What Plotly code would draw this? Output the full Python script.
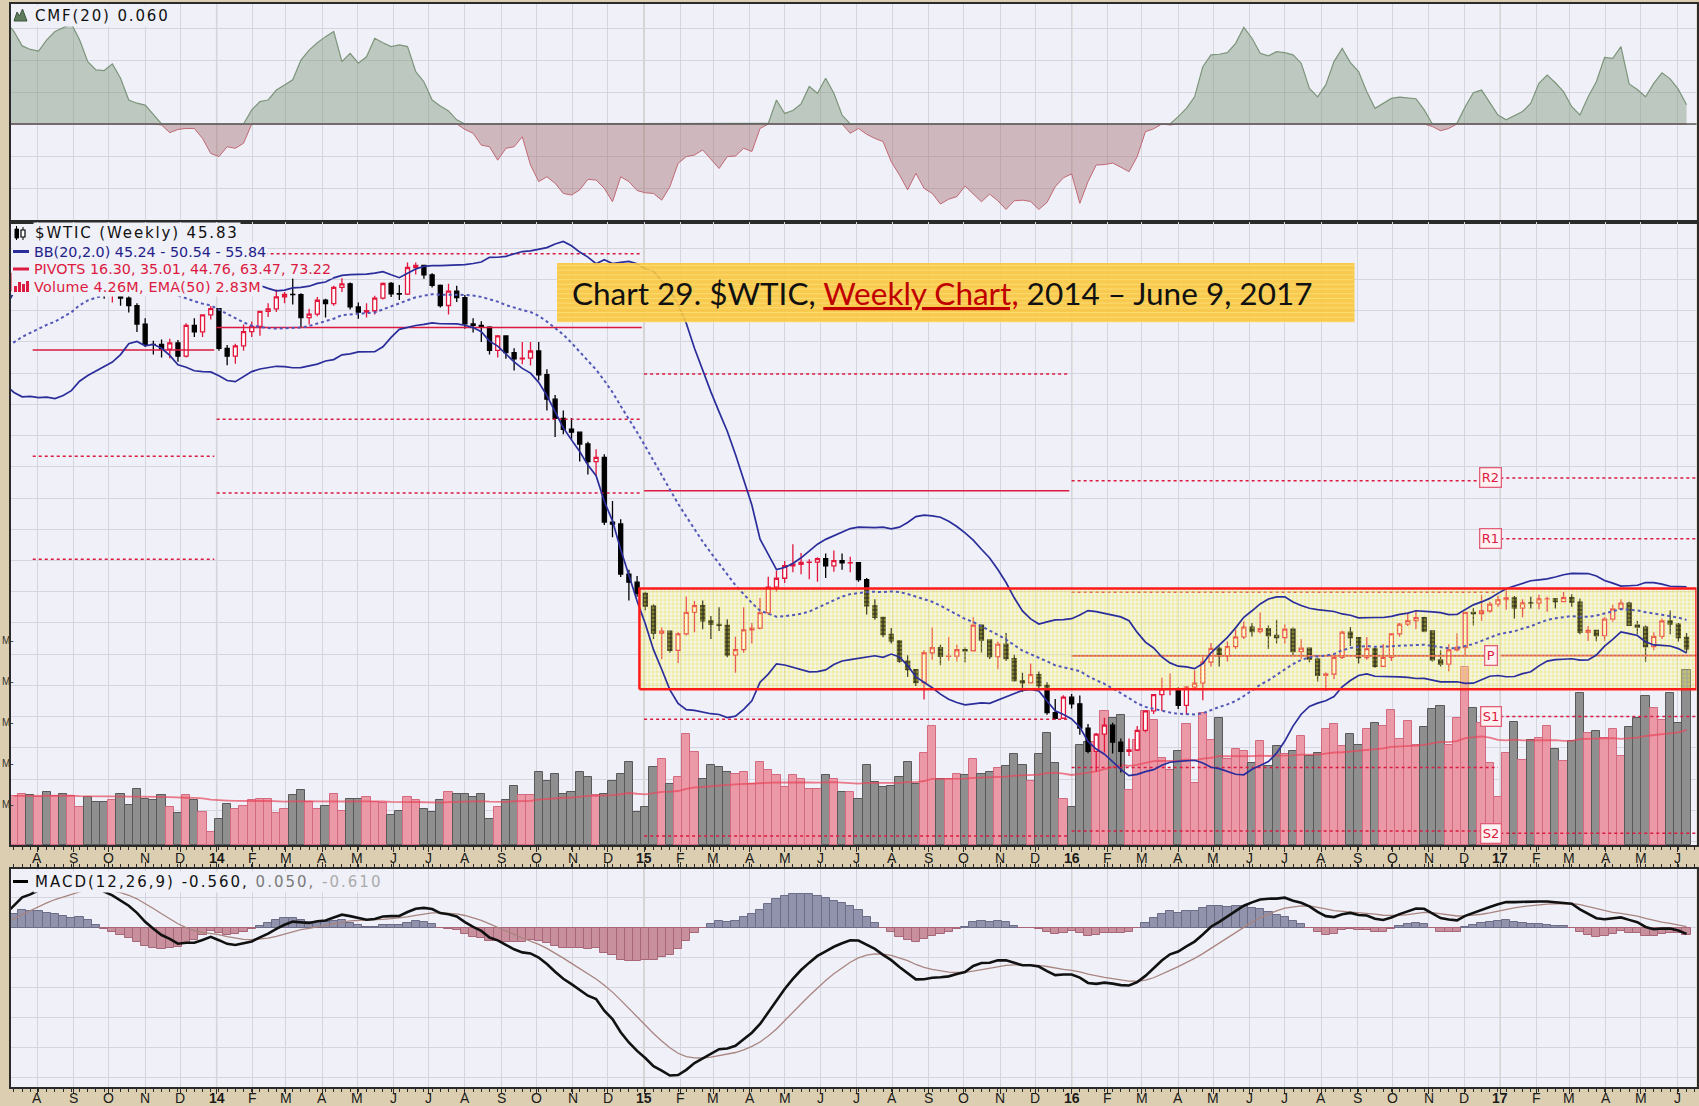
import numpy as np
import pandas as pd
import plotly.graph_objects as go

# ---------------- $WTIC weekly data ----------------
# weekly settles before the visible window (used to seed the indicators)
warmup_closes = [93.09, 93.56, 95.56, 95.88, 97.77, 95.72, 95.86, 93.13, 90.68, 91.95,
                 93.45, 93.71, 97.23, 92.70, 91.29, 88.01, 93.00, 95.61, 96.04, 96.02,
                 93.84, 91.97, 96.03, 97.85, 93.69, 96.56, 103.22]

# weekly bars, first bar = week ending 2013-07-12, last = 2017-06-09
opens = [103.22, 105.95, 108.05, 104.70, 106.94, 106.00, 107.46, 106.42, 107.65, 110.53,
         108.21, 104.67, 102.87, 103.84, 102.02, 100.81, 97.85, 94.61, 94.60, 93.84,
         94.84, 92.72, 97.65, 96.60, 99.32, 100.32, 93.96, 92.72, 94.37, 96.64,
         97.49, 99.88, 100.30, 102.20, 102.59, 102.58, 98.89, 99.46, 101.67, 101.14,
         103.74, 104.30, 100.60, 99.76, 99.99, 102.02, 104.35, 102.71, 102.66, 106.91,
         107.26, 105.74, 104.06, 100.83, 103.13, 102.09, 97.88, 97.65, 97.35, 93.65,
         95.96, 93.29, 92.27, 92.41, 93.54, 89.74, 85.82, 82.75, 81.01, 80.54,
         78.65, 75.82, 76.51, 66.15, 65.84, 57.81, 56.52, 54.73, 52.69, 48.36,
         48.69, 45.59, 48.24, 51.69, 52.78, 50.34, 49.76, 49.61, 44.84, 45.72,
         48.87, 49.14, 51.64, 55.74, 57.15, 59.15, 59.39, 59.69, 59.72, 60.30,
         59.13, 59.96, 59.61, 59.63, 56.93, 52.74, 50.89, 48.14, 47.12, 43.87,
         42.50, 40.45, 45.22, 46.05, 44.63, 44.68, 45.70, 45.54, 49.63, 47.26,
         44.60, 46.59, 44.29, 40.74, 40.39, 41.71, 39.97, 35.62, 34.73, 38.10,
         37.04, 33.16, 29.42, 32.19, 33.62, 30.89, 29.44, 29.64, 32.78, 35.92,
         38.50, 39.44, 39.46, 36.79, 39.72, 40.36, 43.73, 45.92, 44.66, 46.21,
         47.75, 49.33, 48.62, 49.07, 47.98, 47.64, 48.99, 45.41, 45.95, 44.19,
         41.60, 41.80, 44.49, 48.52, 47.64, 44.44, 45.88, 43.03, 44.48, 48.24,
         49.81, 50.35, 50.85, 48.70, 44.07, 43.41, 45.69, 46.06, 51.68, 51.50,
         51.90, 53.02, 53.72, 53.99, 52.37, 53.22, 53.17, 53.83, 53.86, 53.40,
         54.05, 53.33, 48.49, 48.78, 47.97, 50.60, 52.24, 53.18, 49.62, 49.33,
         46.22, 47.84, 50.33, 49.80, 47.66]

highs = [106.30, 109.32, 108.40, 108.00, 107.10, 108.00, 107.95, 112.24, 110.70, 110.75,
         108.50, 105.00, 104.20, 104.10, 103.00, 101.20, 98.80, 95.20, 95.40, 95.50,
         95.30, 98.00, 98.80, 99.40, 100.75, 100.40, 94.50, 94.70, 97.80, 98.25,
         100.00, 101.20, 103.40, 103.00, 105.20, 102.80, 100.30, 102.20, 101.90, 104.00,
         105.20, 104.50, 101.30, 101.20, 102.40, 104.50, 104.60, 104.10, 107.70, 107.73,
         107.30, 106.00, 104.20, 104.30, 104.00, 102.50, 98.80, 98.30, 97.50, 96.10,
         96.00, 94.00, 95.00, 95.00, 95.00, 90.60, 86.50, 84.00, 82.80, 80.60,
         79.00, 77.80, 77.00, 69.50, 66.60, 58.50, 57.50, 55.00, 53.00, 49.30,
         48.80, 48.50, 54.24, 53.50, 53.60, 51.10, 52.50, 50.60, 47.80, 52.50,
         50.00, 54.00, 57.40, 58.40, 59.90, 62.58, 61.20, 60.20, 60.50, 61.10,
         61.60, 61.10, 60.60, 59.70, 57.20, 53.80, 51.00, 49.20, 47.20, 44.80,
         42.60, 45.60, 49.30, 46.50, 47.70, 46.50, 46.10, 50.92, 49.80, 47.30,
         47.00, 48.40, 44.90, 42.00, 43.50, 42.20, 40.50, 37.80, 38.40, 38.60,
         38.39, 33.80, 32.35, 34.82, 34.00, 31.50, 31.50, 33.50, 36.00, 38.50,
         41.20, 41.90, 39.70, 39.90, 42.42, 44.50, 46.78, 46.20, 47.00, 48.90,
         50.21, 50.00, 51.67, 49.60, 50.50, 49.80, 49.30, 47.40, 46.10, 44.40,
         42.10, 44.80, 48.75, 49.36, 47.70, 47.70, 46.00, 46.60, 48.30, 50.00,
         51.60, 51.93, 51.00, 48.80, 45.60, 46.60, 48.30, 51.80, 52.40, 54.51,
         53.40, 54.38, 55.24, 54.30, 53.80, 54.20, 54.50, 54.20, 54.00, 54.94,
         54.60, 53.90, 49.50, 48.90, 50.90, 52.90, 53.77, 53.40, 50.30, 49.60,
         48.50, 50.70, 52.00, 50.00, 48.40]

lows = [102.80, 105.50, 104.00, 103.60, 103.30, 105.50, 103.10, 105.50, 106.20, 106.70,
        104.20, 101.90, 101.30, 100.80, 99.70, 96.60, 94.20, 93.00, 92.50, 92.40,
        91.80, 92.50, 95.80, 95.80, 98.60, 93.60, 91.24, 91.50, 93.60, 95.80,
        96.00, 99.00, 99.80, 101.20, 101.00, 97.40, 97.80, 99.10, 98.90, 100.80,
        103.00, 100.20, 98.70, 98.90, 99.40, 101.80, 102.20, 101.70, 102.50, 105.80,
        105.10, 103.70, 100.50, 99.40, 101.40, 97.10, 96.50, 95.00, 93.00, 92.50,
        92.30, 90.40, 91.40, 91.20, 88.80, 84.00, 79.78, 80.20, 79.50, 75.84,
        73.75, 73.60, 65.69, 63.72, 57.34, 53.60, 54.20, 52.03, 47.40, 44.20,
        45.20, 43.58, 48.00, 48.50, 49.00, 47.40, 48.70, 44.50, 42.03, 45.20,
        46.70, 49.00, 51.30, 55.00, 56.40, 58.10, 57.80, 57.00, 56.60, 57.20,
        58.20, 58.50, 58.10, 56.60, 51.35, 50.50, 47.70, 46.68, 43.60, 41.35,
        39.90, 37.75, 44.10, 43.20, 43.90, 43.80, 43.70, 45.50, 45.20, 44.20,
        42.58, 43.90, 40.60, 38.99, 40.30, 39.40, 35.30, 34.53, 34.60, 36.30,
        32.10, 29.13, 26.19, 29.25, 29.10, 26.05, 28.70, 29.50, 32.50, 35.40,
        35.90, 38.40, 36.20, 35.24, 39.20, 37.60, 43.00, 43.03, 43.80, 45.80,
        47.40, 47.80, 48.30, 45.83, 46.70, 46.70, 44.80, 44.20, 43.70, 40.60,
        39.19, 41.00, 44.20, 46.30, 43.50, 44.10, 42.80, 43.00, 43.90, 47.80,
        49.50, 49.00, 48.50, 43.80, 43.03, 42.20, 45.40, 44.80, 49.60, 50.30,
        51.60, 52.60, 52.10, 50.71, 50.90, 52.30, 52.20, 51.80, 52.30, 53.30,
        52.60, 48.20, 47.10, 47.05, 47.10, 50.20, 52.10, 49.50, 48.20, 43.76,
        45.60, 47.40, 48.20, 47.00, 45.20]

closes = [105.95, 108.05, 104.70, 106.94, 106.00, 107.46, 106.42, 107.65, 110.53, 108.21,
          104.67, 102.87, 103.84, 102.02, 100.81, 97.85, 94.61, 94.60, 93.84, 94.84,
          92.72, 97.65, 96.60, 99.32, 100.32, 93.96, 92.72, 94.37, 96.64, 97.49,
          99.88, 100.30, 102.20, 102.59, 102.58, 98.89, 99.46, 101.67, 101.14, 103.74,
          104.30, 100.60, 99.76, 99.99, 102.02, 104.35, 102.71, 102.66, 106.91, 107.26,
          105.74, 104.06, 100.83, 103.13, 102.09, 97.88, 97.65, 97.35, 93.65, 95.96,
          93.29, 92.27, 92.41, 93.54, 89.74, 85.82, 82.75, 81.01, 80.54, 78.65,
          75.82, 76.51, 66.15, 65.84, 57.81, 56.52, 54.73, 52.69, 48.36, 48.69,
          45.59, 48.24, 51.69, 52.78, 50.34, 49.76, 49.61, 44.84, 45.72, 48.87,
          49.14, 51.64, 55.74, 57.15, 59.15, 59.39, 59.69, 59.72, 60.30, 59.13,
          59.96, 59.61, 59.63, 56.93, 52.74, 50.89, 48.14, 47.12, 43.87, 42.50,
          40.45, 45.22, 46.05, 44.63, 44.68, 45.70, 45.54, 49.63, 47.26, 44.60,
          46.59, 44.29, 40.74, 40.39, 41.71, 39.97, 35.62, 34.73, 38.10, 37.04,
          33.16, 29.42, 32.19, 33.62, 30.89, 29.44, 29.64, 32.78, 35.92, 38.50,
          39.44, 39.46, 36.79, 39.72, 40.36, 43.73, 45.92, 44.66, 46.21, 47.75,
          49.33, 48.62, 49.07, 47.98, 47.64, 48.99, 45.41, 45.95, 44.19, 41.60,
          41.80, 44.49, 48.52, 47.64, 44.44, 45.88, 43.03, 44.48, 48.24, 49.81,
          50.35, 50.85, 48.70, 44.07, 43.41, 45.69, 46.06, 51.68, 51.50, 51.90,
          53.02, 53.72, 53.99, 52.37, 53.22, 53.17, 53.83, 53.86, 53.40, 54.05,
          53.33, 48.49, 48.78, 47.97, 50.60, 52.24, 53.18, 49.62, 49.33, 46.22,
          47.84, 50.33, 49.80, 47.66, 45.83]

# weekly volume, millions
volume_m = [1.20, 1.25, 1.21, 1.18, 1.29, 1.19, 1.25, 1.19, 0.92, 1.17,
            1.04, 1.04, 1.09, 1.25, 0.97, 1.37, 1.13, 1.09, 1.21, 0.92,
            0.77, 1.21, 1.09, 0.80, 0.31, 0.64, 1.00, 0.88, 0.96, 1.09,
            1.13, 1.13, 0.77, 0.88, 1.21, 1.33, 1.04, 0.88, 0.96, 1.25,
            0.84, 1.11, 1.11, 1.17, 1.04, 1.03, 0.72, 0.84, 1.17, 1.09,
            0.88, 0.80, 1.09, 1.29, 1.25, 1.25, 1.17, 1.25, 0.64, 0.92,
            1.09, 1.45, 1.21, 1.21, 1.78, 1.57, 1.74, 1.25, 1.29, 1.78,
            1.65, 1.21, 1.25, 1.57, 1.74, 2.02, 0.80, 0.92, 1.90, 2.10,
            1.49, 1.65, 2.70, 2.26, 1.61, 1.94, 1.90, 1.78, 1.74, 1.78,
            1.49, 2.02, 1.82, 1.70, 1.41, 1.70, 1.61, 1.37, 1.37, 1.70,
            1.61, 1.29, 1.29, 1.13, 1.94, 1.53, 1.41, 1.45, 1.65, 2.02,
            1.49, 2.25, 2.90, 1.60, 1.60, 1.74, 1.70, 2.10, 1.74, 1.78,
            1.88, 1.92, 2.22, 1.96, 1.56, 2.21, 2.74, 2.00, 1.13, 0.92,
            2.43, 2.51, 2.51, 3.26, 3.10, 3.16, 1.35, 2.57, 3.26, 3.06,
            2.13, 1.84, 2.29, 2.94, 1.52, 3.22, 2.57, 3.10, 2.09, 2.33,
            2.29, 2.00, 2.53, 1.92, 2.41, 2.21, 2.29, 2.65, 2.17, 2.25,
            2.82, 2.94, 2.41, 2.70, 2.45, 2.82, 2.98, 2.90, 3.30, 2.59,
            3.02, 2.45, 2.88, 3.32, 3.39, 2.45, 3.09, 4.33, 3.35, 2.98,
            2.00, 1.18, 2.25, 3.00, 2.08, 2.57, 2.60, 2.90, 2.33, 2.04,
            2.53, 3.70, 2.74, 2.78, 2.60, 2.82, 2.17, 2.87, 3.10, 3.63,
            3.35, 3.06, 3.70, 2.98, 4.26]

# Chaikin Money Flow (20), first value = week ending 2013-07-05
cmf20 = [0.320,
         0.289, 0.244, 0.233, 0.228, 0.263, 0.289, 0.302, 0.313, 0.263, 0.195,
         0.169, 0.167, 0.188, 0.143, 0.075, 0.065, 0.059, 0.028, -0.003, -0.027,
         -0.017, -0.014, -0.014, -0.045, -0.092, -0.102, -0.071, -0.076, -0.060, 0.044,
         0.070, 0.075, 0.106, 0.122, 0.138, 0.200, 0.231, 0.254, 0.273, 0.289,
         0.195, 0.221, 0.190, 0.210, 0.268, 0.254, 0.242, 0.247, 0.242, 0.164,
         0.132, 0.075, 0.056, 0.041, 0.013, -0.017, -0.029, -0.066, -0.071, -0.113,
         -0.076, -0.071, -0.040, -0.128, -0.180, -0.165, -0.185, -0.217, -0.222, -0.206,
         -0.173, -0.175, -0.201, -0.243, -0.165, -0.180, -0.208, -0.215, -0.217, -0.238,
         -0.196, -0.123, -0.102, -0.097, -0.081, -0.110, -0.139, -0.102, -0.100, -0.076,
         -0.086, -0.014, 0.002, 0.075, 0.033, 0.042, 0.063, 0.117, 0.096, 0.143,
         0.096, 0.028, -0.029, -0.014, -0.032, -0.045, -0.055, -0.118, -0.159, -0.206,
         -0.154, -0.201, -0.217, -0.250, -0.235, -0.227, -0.194, -0.220, -0.243, -0.219,
         -0.240, -0.267, -0.240, -0.238, -0.242, -0.267, -0.245, -0.196, -0.168, -0.156,
         -0.248, -0.180, -0.128, -0.127, -0.122, -0.135, -0.149, -0.102, -0.024, -0.015,
         0.000, -0.003, 0.023, 0.049, 0.085, 0.179, 0.216, 0.218, 0.223, 0.252,
         0.302, 0.268, 0.221, 0.213, 0.226, 0.223, 0.216, 0.190, 0.111, 0.085,
         0.122, 0.195, 0.236, 0.192, 0.164, 0.101, 0.049, 0.065, 0.080, 0.084,
         0.081, 0.079, 0.044, -0.008, -0.021, -0.014, 0.002, 0.054, 0.098, 0.106,
         0.065, 0.028, 0.013, 0.025, 0.039, 0.065, 0.127, 0.153, 0.129, 0.101,
         0.054, 0.028, 0.085, 0.132, 0.208, 0.205, 0.242, 0.125, 0.108, 0.085,
         0.127, 0.160, 0.141, 0.108, 0.060]

# yearly pivot levels
pivot_start = ["2013-07-28", "2014-01-01", "2015-01-01", "2016-01-01", "2017-01-01"]
pivot_end = ["2013-12-30", "2014-12-30", "2015-12-30", "2016-12-30", "2017-06-17 12:00"]
pivot_r2 = [127.20, 123.60, 126.44, 72.77, 73.22]
pivot_r1 = [110.20, 109.10, 89.86, 54.91, 63.47]
pivot_p = [93.70, 97.30, 71.15, 44.72, 44.76]
pivot_s1 = [76.70, 82.60, 34.57, 26.86, 35.01]
pivot_s2 = [60.20, 70.80, 15.86, 16.67, 16.30]
pivot_names = ["R2", "R1", "P", "S1", "S2"]

legend_price = "$WTIC (Weekly) 45.83"
legend_bb = "BB(20,2.0) 45.24 - 50.54 - 55.84"
legend_piv = "PIVOTS 16.30, 35.01, 44.76, 63.47, 73.22"
legend_vol = "Volume 4.26M, EMA(50) 2.83M"
legend_cmf = "CMF(20) 0.060"
legend_macd = ["MACD(12,26,9) -0.560,", "0.050,", "-0.610"]
title_parts = ["Chart 29. $WTIC, ", "Weekly Chart,", " 2014 \u2013 June 9, 2017"]
volume_ticks_m = [1, 2, 3, 4, 5]

# highlighted trading range
box_start, box_low, box_high = "2014-12-28", 39.38, 55.52

# ---------------- page geometry ----------------
W, H = 1699, 1106
TAN = "#dccfb1"
PANEL = "#eff0f8"
GRID = "#d4d5de"
YEARGRID = "#c6bea6"
BORDER = "#2b2b2b"
RED = "#e3173c"
PIV_RED = "#dc1a40"
NAVY = "#2a2d9a"
X_RANGE = ["2013-07-09 11:00", "2017-06-17 12:00"]
X_L, X_R = 11, 1696.5
CMF_T, CMF_B = 4, 222
PR_T, PR_B = 222, 845
MD_T, MD_B = 869, 1087
VOL_PX_PER_M = 41.0


def fx(px):
    return px / W


def fy(py):
    return 1 - py / H


def path_px(points):
    return "M " + " L ".join(f"{fx(x):.5f},{fy(y):.5f}" for x, y in points) + " Z"


week_dates = pd.date_range("2013-07-12", periods=len(closes), freq="7D")
warm_dates = pd.date_range(end="2013-07-05", periods=len(warmup_closes), freq="7D")
cmf_dates = pd.date_range("2013-07-05", periods=len(cmf20), freq="7D")
WEEK_MS = 7 * 86400000

# ---------------- indicators ----------------
close_all = pd.Series(warmup_closes + closes, index=warm_dates.append(week_dates))
bb_mid = close_all.rolling(20).mean()
bb_sd = close_all.rolling(20).std(ddof=0)
bb_up = bb_mid + 2 * bb_sd
bb_lo = bb_mid - 2 * bb_sd
ema12 = close_all.ewm(span=12, adjust=False).mean()
ema26 = close_all.ewm(span=26, adjust=False).mean()
macd = ema12 - ema26
signal = macd.ewm(span=9, adjust=False).mean()
hist = macd - signal

vol = pd.Series(volume_m, index=week_dates)
vol_ema = vol.ewm(span=50, adjust=False).mean()
prev_close = [warmup_closes[-1]] + closes[:-1]
vol_up = [c >= p for c, p in zip(closes, prev_close)]

cmf = pd.Series(cmf20, index=cmf_dates)
cmf_pos = cmf.clip(lower=0)
cmf_neg = cmf.clip(upper=0)

vis = macd[macd.index >= pd.Timestamp(X_RANGE[0])]
m_abs = abs(vis.min())
m_scale = 148.0 / m_abs
macd_range = [-159.5 / m_scale, 58.5 / m_scale]
macd_dtick = 30.0 / m_scale

box_x = [box_start, X_RANGE[1], X_RANGE[1], box_start, box_start]
box_y = [box_low, box_low, box_high, box_high, box_low]

fig = go.Figure()

# ---- CMF panel ----
fig.add_trace(go.Scatter(x=cmf.index, y=cmf_pos, mode="lines", fill="tozeroy",
                         fillcolor="rgba(120,145,115,0.42)", line=dict(color="#7d957a", width=1.2),
                         xaxis="x", yaxis="y", hoverinfo="skip"))
fig.add_trace(go.Scatter(x=cmf.index, y=cmf_neg, mode="lines", fill="tozeroy",
                         fillcolor="rgba(160,100,100,0.40)", line=dict(color="#c06874", width=1.0),
                         xaxis="x", yaxis="y", hoverinfo="skip"))

# ---- volume (base axis of price panel) ----
fig.add_trace(go.Bar(x=week_dates, y=volume_m, width=WEEK_MS,
                     marker=dict(color=["#eb98a7" if u else "#8f8f8f" for u in vol_up],
                                 line=dict(color=["#d46a80" if u else "#595959" for u in vol_up], width=1)),
                     xaxis="x2", yaxis="y2", hoverinfo="skip"))
fig.add_trace(go.Scatter(x=week_dates, y=vol_ema, mode="lines",
                         line=dict(color="rgba(232,70,90,0.7)", width=1.8),
                         xaxis="x2", yaxis="y2", hoverinfo="skip"))


# ---- pivots ----
def pivot_trace(levels, dash, width):
    xs, ys = [], []
    for s, e, v in zip(pivot_start, pivot_end, levels):
        xs += [s, e, None]
        ys += [v, v, None]
    return go.Scatter(x=xs, y=ys, mode="lines", line=dict(color=PIV_RED, width=width, dash=dash),
                      xaxis="x2", yaxis="y4", hoverinfo="skip", connectgaps=False)


for lv in (pivot_r2, pivot_r1, pivot_s1, pivot_s2):
    fig.add_trace(pivot_trace(lv, "dot", 1.5))
fig.add_trace(pivot_trace(pivot_p, "solid", 1.6))

# ---- candles ----
fig.add_trace(go.Candlestick(x=week_dates, open=opens, high=highs, low=lows, close=closes,
                             increasing=dict(line=dict(color=RED, width=1.3), fillcolor="white"),
                             decreasing=dict(line=dict(color="black", width=1.3), fillcolor="black"),
                             whiskerwidth=0, xaxis="x2", yaxis="y4", hoverinfo="skip"))

# ---- highlighted range: dotted yellow wash ----
fig.add_trace(go.Scatter(x=box_x, y=box_y, mode="lines", fill="toself",
                         fillpattern=dict(shape=".", fgcolor="#e8e030", fgopacity=0.4,
                                          bgcolor="rgba(255,255,160,0.24)", size=4, solidity=0.4),
                         line=dict(width=0), xaxis="x2", yaxis="y4", hoverinfo="skip"))

# ---- Bollinger bands ----
bb_ok = bb_mid.notna()
fig.add_trace(go.Scatter(x=bb_mid.index[bb_ok], y=bb_up[bb_ok], mode="lines",
                         line=dict(color=NAVY, width=1.7), xaxis="x2", yaxis="y4", hoverinfo="skip"))
fig.add_trace(go.Scatter(x=bb_mid.index[bb_ok], y=bb_lo[bb_ok], mode="lines",
                         line=dict(color=NAVY, width=1.7), xaxis="x2", yaxis="y4", hoverinfo="skip"))
fig.add_trace(go.Scatter(x=bb_mid.index[bb_ok], y=bb_mid[bb_ok], mode="lines",
                         line=dict(color="#5257b8", width=2, dash="dot"), xaxis="x2", yaxis="y4",
                         hoverinfo="skip"))

# ---- highlighted range: red frame ----
fig.add_trace(go.Scatter(x=box_x, y=box_y, mode="lines", line=dict(color="#ff1a1a", width=2.5),
                         xaxis="x2", yaxis="y4", hoverinfo="skip"))

# ---- MACD panel ----
fig.add_trace(go.Bar(x=hist.index, y=hist.values, width=WEEK_MS,
                     marker=dict(color=["#9192ab" if v >= 0 else "#c8909d" for v in hist.values],
                                 line=dict(color=["#6c6d88" if v >= 0 else "#a86778" for v in hist.values],
                                           width=1)),
                     xaxis="x3", yaxis="y3", hoverinfo="skip"))
fig.add_trace(go.Scatter(x=signal.index, y=signal.values, mode="lines",
                         line=dict(color="#a98580", width=1.3), xaxis="x3", yaxis="y3", hoverinfo="skip"))
fig.add_trace(go.Scatter(x=macd.index, y=macd.values, mode="lines",
                         line=dict(color="#111111", width=2.6), xaxis="x3", yaxis="y3", hoverinfo="skip"))

# ---------------- axes ----------------
months = pd.date_range("2013-08-01", "2017-06-01", freq="MS")
month_vals = list(months)
xcommon = dict(type="date", range=X_RANGE, domain=[fx(X_L), fx(X_R)], tickmode="array",
               tickvals=month_vals, showticklabels=False, showgrid=True, gridcolor=GRID, gridwidth=1,
               zeroline=False, showline=True, linecolor=BORDER, linewidth=1.5)
minor_ticks = dict(ticks="outside", ticklen=3, tickcolor=BORDER, tickwidth=1,
                   dtick=WEEK_MS, tick0="2013-07-12", showgrid=False)

fig.update_layout(
    width=W, height=H, margin=dict(l=0, r=0, t=0, b=0),
    paper_bgcolor=TAN, plot_bgcolor=PANEL, showlegend=False, hovermode=False,
    bargap=0, boxgap=0.3,
    xaxis=dict(**xcommon, anchor="y", mirror=True, ticks=""),
    xaxis2=dict(**xcommon, anchor="y2", matches="x", mirror=True, ticks="outside", ticklen=5,
                tickcolor=BORDER, tickwidth=1, minor=minor_ticks, rangeslider=dict(visible=False)),
    xaxis3=dict(**xcommon, anchor="y3", matches="x", mirror="ticks", ticks="outside", ticklen=5,
                tickcolor=BORDER, tickwidth=1, minor=minor_ticks),
    yaxis=dict(domain=[fy(CMF_B), fy(CMF_T)], range=[-(CMF_B - 124) / 320.0, (124 - CMF_T) / 320.0],
               tick0=0, dtick=0.1, showticklabels=False, ticks="", showgrid=True, gridcolor=GRID,
               zeroline=False, showline=True, mirror=True, linecolor=BORDER, linewidth=1.5, anchor="x"),
    yaxis2=dict(domain=[fy(PR_B), fy(PR_T)], range=[0, (PR_B - PR_T) / VOL_PX_PER_M],
                showticklabels=False, ticks="", showgrid=False, zeroline=False,
                showline=True, mirror=True, linecolor=BORDER, linewidth=1.5, anchor="x2"),
    yaxis4=dict(overlaying="y2", anchor="x2", range=[14.43, 114.20], tick0=0, dtick=5,
                showticklabels=False, ticks="", showgrid=True, gridcolor=GRID, zeroline=False,
                showline=False),
    yaxis3=dict(domain=[fy(MD_B), fy(MD_T)], range=macd_range, tick0=0, dtick=macd_dtick,
                showticklabels=False, ticks="", showgrid=True, gridcolor=GRID, zeroline=False,
                showline=True, mirror=True, linecolor=BORDER, linewidth=1.5, anchor="x3"),
)

shapes = []
annotations = []

# darker year separators
for yr in ["2014-01-01", "2015-01-01", "2016-01-01", "2017-01-01"]:
    for (t, b) in [(CMF_T, CMF_B), (PR_T, PR_B), (MD_T, MD_B)]:
        shapes.append(dict(type="line", xref="x", yref="paper", x0=yr, x1=yr, y0=fy(b), y1=fy(t),
                           line=dict(color=YEARGRID, width=1.3), layer="below"))

# CMF zero line
shapes.append(dict(type="line", xref="paper", yref="y", x0=fx(X_L), x1=fx(X_R), y0=0, y1=0,
                   line=dict(color="#5a5a5a", width=1.5), layer="above"))

# title box
shapes.append(dict(type="rect", xref="paper", yref="paper", x0=fx(557), x1=fx(1354.5),
                   y0=fy(322), y1=fy(263), fillcolor="#f8c53c", opacity=0.9, line=dict(width=0),
                   layer="above"))
for i in range(13):
    yy = 265.5 + i * 4.7
    shapes.append(dict(type="line", xref="paper", yref="paper", x0=fx(557), x1=fx(1354.5),
                       y0=fy(yy), y1=fy(yy), line=dict(color="rgba(255,226,125,0.75)", width=1),
                       layer="above"))

# legend icon backgrounds and icons (price panel)
shapes.append(dict(type="rect", xref="paper", yref="paper", x0=fx(X_L + 0.8), x1=fx(34),
                   y0=fy(295), y1=fy(224), fillcolor=PANEL, line=dict(width=0), layer="above"))
shapes.append(dict(type="line", xref="paper", yref="paper", x0=fx(16.5), x1=fx(16.5),
                   y0=fy(240), y1=fy(226), line=dict(color="black", width=1), layer="above"))
shapes.append(dict(type="rect", xref="paper", yref="paper", x0=fx(15), x1=fx(18.5),
                   y0=fy(238), y1=fy(229), fillcolor="black", line=dict(color="black", width=1),
                   layer="above"))
shapes.append(dict(type="line", xref="paper", yref="paper", x0=fx(23), x1=fx(23),
                   y0=fy(240), y1=fy(227), line=dict(color="black", width=1), layer="above"))
shapes.append(dict(type="rect", xref="paper", yref="paper", x0=fx(21), x1=fx(25),
                   y0=fy(237), y1=fy(230), fillcolor="white", line=dict(color="black", width=1.2),
                   layer="above"))
shapes.append(dict(type="line", xref="paper", yref="paper", x0=fx(13), x1=fx(29),
                   y0=fy(251.5), y1=fy(251.5), line=dict(color=NAVY, width=3), layer="above"))
shapes.append(dict(type="line", xref="paper", yref="paper", x0=fx(13), x1=fx(29),
                   y0=fy(269), y1=fy(269), line=dict(color=PIV_RED, width=3), layer="above"))
for bx, bh in [(14, 6), (18, 10), (22, 8), (26, 11)]:
    shapes.append(dict(type="rect", xref="paper", yref="paper", x0=fx(bx), x1=fx(bx + 3),
                       y0=fy(292), y1=fy(292 - bh), fillcolor=PIV_RED, line=dict(width=0),
                       layer="above"))
# CMF icon
shapes.append(dict(type="path", xref="paper", yref="paper",
                   path=path_px([(14, 21), (17, 12), (19.5, 16), (22.5, 9), (27, 21)]),
                   fillcolor="#5f7d5c", line=dict(color="#3d553b", width=1), layer="above"))
# MACD icon
shapes.append(dict(type="line", xref="paper", yref="paper", x0=fx(13), x1=fx(28),
                   y0=fy(881.5), y1=fy(881.5), line=dict(color="black", width=3), layer="above"))


def label(x, y, text, color="#111111", size=15, family="DejaVu Sans", spacing=1.85, bg=PANEL,
          xanchor="left"):
    if spacing:
        text = f'<span style="letter-spacing:{spacing}px">{text}</span>'
    d = dict(x=fx(x), y=fy(y), xref="paper", yref="paper", text=text, showarrow=False,
             xanchor=xanchor, yanchor="middle", font=dict(family=family, size=size, color=color))
    if bg:
        d.update(bgcolor=bg, borderpad=1)
    return d


annotations.append(label(33, 15.5, legend_cmf))
annotations.append(label(33, 233, legend_price))
annotations.append(label(32, 251.5, legend_bb, color="#1f218a", size=14.3, spacing=0))
annotations.append(label(32, 269, legend_piv, color=PIV_RED, size=14.3, spacing=0))
annotations.append(label(32, 286.5, legend_vol, color=PIV_RED, size=14.3, spacing=0.25))
macd_txt = (f'{legend_macd[0]} <span style="color:#7a7a7a">{legend_macd[1]}</span> '
            f'<span style="color:#ababab">{legend_macd[2]}</span>')
annotations.append(label(33, 881.5, macd_txt, spacing=2.0))

# title
title_txt = (f'{title_parts[0]}<span style="color:#c00000;text-decoration:underline">{title_parts[1]}</span>'
             f'{title_parts[2]}')
annotations.append(dict(x=fx(942), y=fy(293), xref="paper", yref="paper", text=title_txt,
                        showarrow=False, xanchor="center", yanchor="middle",
                        font=dict(family="Lato", size=31.5, color="#111111")))

# month labels in both date bands
for mth in months:
    txt = f"<b>{mth.year % 100:02d}</b>" if mth.month == 1 else "JFMAMJJASOND"[mth.month - 1]
    for yy in (858, 1097.5):
        annotations.append(dict(x=mth, y=fy(yy), xref="x", yref="paper", text=txt, showarrow=False,
                                xanchor="center", yanchor="middle",
                                font=dict(family="Liberation Sans", size=14, color="#1a1a1a")))

# volume scale stubs at the left edge
for v in volume_ticks_m:
    annotations.append(dict(x=0, y=fy(PR_B - v * VOL_PX_PER_M), xref="paper", yref="paper",
                            text="M-", showarrow=False, xanchor="left", yanchor="middle",
                            font=dict(family="Liberation Sans", size=10, color="#333333")))

# pivot level tags at the start of 2017
for name, lv in zip(pivot_names, [pivot_r2[-1], pivot_r1[-1], pivot_p[-1], pivot_s1[-1], pivot_s2[-1]]):
    annotations.append(dict(x="2016-12-24", y=lv, xref="x2", yref="y4", text=name, showarrow=False,
                            xanchor="center", yanchor="middle",
                            font=dict(family="DejaVu Sans", size=13, color=PIV_RED),
                            bgcolor="#fff2f3", bordercolor="#e0607a", borderwidth=1.3, borderpad=1.5))

fig.update_layout(shapes=shapes, annotations=annotations)
fig.write_html("out.html")
